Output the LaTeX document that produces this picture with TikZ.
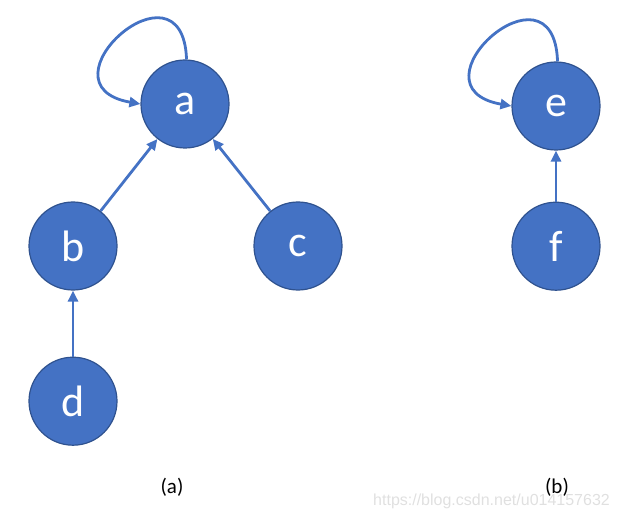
\documentclass[tikz,border=0pt]{standalone}
\usepackage{fontspec}
\setmainfont{Carlito}
\newfontfamily\markfont{Liberation Sans}
\usepackage{tikz}
\usetikzlibrary{arrows.meta}
\usetikzlibrary{positioning}
\definecolor{nodeblue}{HTML}{4472C4}
\definecolor{rimblue}{HTML}{2F528F}

\begin{document}
\begin{tikzpicture}[x=1pt, y=-1pt, roundnode/.style={circle, draw=rimblue, fill=nodeblue, line width=1.2pt, minimum size=88pt, inner sep=0pt, text=white, font=\fontsize{44}{44}\selectfont}, link/.style={-{Triangle[length=11pt, width=10pt]}, draw=nodeblue, line width=2.8pt}]
    \useasboundingbox (0,0) rectangle (617,518);
    %Nodes
    \node[roundnode] (a) at (185,104) {a};
    \node[roundnode] (b) at (73,246) {b};
    \node[roundnode] (c) at (298,246) {c};
    \node[roundnode] (d) [below=66pt of b] {d};
    \node[roundnode] (e) at (556,106) {e};
    \node[roundnode] (f) [below=51pt of e] {f};

    % Edges
    \draw[link] (b) -- (a);
    \draw[link] (c) -- (a);
    \draw[link] (d) -- (b);
    \draw[link] (f) -- (e);
    \draw[link] (a.88) to[out=92, in=170, looseness=4.3] (a.west);
    \draw[link] (e.88) to[out=92, in=170, looseness=4.3] (e.west);

    % Captions
    \node (capa) at (172,487) {\fontsize{21}{21}\selectfont (a)};
    \node (capb) at (557,487) {\fontsize{21}{21}\selectfont (b)};
    \node[text=black!12, anchor=base west, inner sep=0pt] (mark) at (373,505) {\markfont\fontsize{16}{16}\selectfont https://blog.csdn.net/u014157632};
\end{tikzpicture}
\end{document}
